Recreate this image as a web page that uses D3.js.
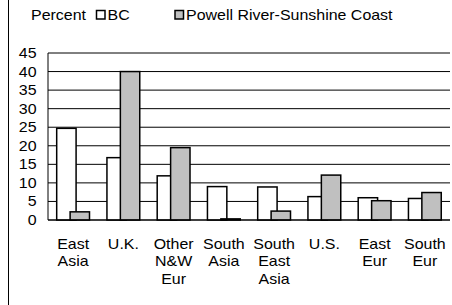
<!DOCTYPE html>
<html><head><meta charset="utf-8">
<script src="https://cdn.jsdelivr.net/npm/d3@7/dist/d3.min.js"></script>
<style>html,body{margin:0;padding:0;background:#fff;}svg{display:block;}</style>
</head><body>
<script>
const categories = [["East","Asia"],["U.K."],["Other","N&W","Eur"],["South","Asia"],["South","East","Asia"],["U.S."],["East","Eur"],["South","Eur"]];
const seriesNames = ["BC","Powell River-Sunshine Coast"];
const bcValues = [24.7, 16.8, 11.9, 9.0, 8.9, 6.3, 6.0, 5.8];
const prscValues = [2.2, 40.0, 19.5, 0.3, 2.4, 12.1, 5.2, 7.4];
const yTicks = [0,5,10,15,20,25,30,35,40,45];
const yLabel = "Percent";

const W = 452, H = 305;
const FS = 14, SX = 1.14;
const svg = d3.select("body").append("svg").attr("width", W).attr("height", H)
  .style("font-family", "'Liberation Sans', Arial, sans-serif").style("font-size", FS + "px");

const x = d3.scaleBand().domain(d3.range(categories.length)).range([48, 450]).paddingInner(0).paddingOuter(0);
const y = d3.scaleLinear().domain([0, 45]).range([220, 53]);

// outer left frame
svg.append("line").attr("x1", 8.5).attr("x2", 8.5).attr("y1", 0).attr("y2", H).attr("stroke", "#000").attr("stroke-width", 1);

// gridlines
svg.append("g").selectAll("line").data(yTicks).join("line")
  .attr("x1", 48).attr("x2", 450).attr("y1", d => y(d)).attr("y2", d => y(d))
  .attr("stroke", "#000").attr("stroke-width", 1);
// left axis line
svg.append("line").attr("x1", 48).attr("x2", 48).attr("y1", y(45)).attr("y2", y(0)).attr("stroke", "#000").attr("stroke-width", 1);

// y labels
svg.append("g").selectAll("text").data(yTicks).join("text")
  .attr("transform", d => `translate(36.5,${y(d) + 5}) scale(${SX},1)`)
  .attr("text-anchor", "end").text(d => d);

const bw = x.bandwidth();
const barW = bw * 0.386, off = bw * 0.267, lead = bw * 0.173;
// BC bars
svg.append("g").selectAll("rect").data(bcValues).join("rect")
  .attr("x", (d, i) => x(i) + lead).attr("width", barW)
  .attr("y", d => y(d)).attr("height", d => y(0) - y(d))
  .attr("fill", "#fff").attr("stroke", "#000").attr("stroke-width", 1.5);
// PRSC bars
svg.append("g").selectAll("rect").data(prscValues).join("rect")
  .attr("x", (d, i) => x(i) + lead + off).attr("width", barW)
  .attr("y", d => y(d)).attr("height", d => y(0) - y(d))
  .attr("fill", "#c0c0c0").attr("stroke", "#000").attr("stroke-width", 1.5);
// baseline
svg.append("line").attr("x1", 48).attr("x2", 450).attr("y1", y(0)).attr("y2", y(0)).attr("stroke", "#000").attr("stroke-width", 1);

// x labels
const xg = svg.append("g");
categories.forEach((lines, i) => {
  lines.forEach((t, j) => {
    xg.append("text")
      .attr("transform", `translate(${x(i) + bw / 2},${248.7 + j * 17.5}) scale(${SX},1)`)
      .attr("text-anchor", "middle").text(t);
  });
});

// legend
svg.append("text").attr("transform", `translate(31,19.5) scale(${SX},1)`).text(yLabel);
svg.append("rect").attr("x", 96.5).attr("y", 10.5).attr("width", 8.5).attr("height", 8.5)
  .attr("fill", "#fff").attr("stroke", "#000").attr("stroke-width", 1.5);
svg.append("text").attr("transform", `translate(107.5,19.5) scale(${SX},1)`).text(seriesNames[0]);
svg.append("rect").attr("x", 175).attr("y", 10.5).attr("width", 8.5).attr("height", 8.5)
  .attr("fill", "#c0c0c0").attr("stroke", "#000").attr("stroke-width", 1.5);
svg.append("text").attr("transform", `translate(186,19.5) scale(${SX},1)`).text(seriesNames[1]);
</script>
</body></html>
